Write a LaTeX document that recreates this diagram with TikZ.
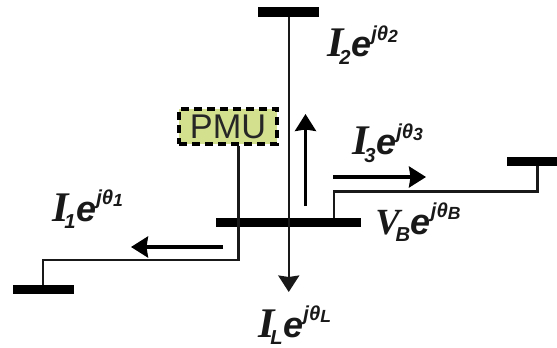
\documentclass[tikz,border=0pt]{standalone}
\usepackage{fontspec}
\setmainfont{Liberation Sans}
\newfontface\serifitalic{Liberation Serif Bold Italic}
\usepackage{xcolor}
\usetikzlibrary{arrows.meta, positioning, calc}
\definecolor{pmugreen}{HTML}{D3E18E}
\newcommand{\phasor}[4][24]{{\serifitalic\fontsize{#1}{#1}\selectfont #2}\kern-2.5pt\raisebox{-4pt}{\fontsize{11.5}{11.5}\selectfont\itshape\bfseries #3}\kern.4pt{\itshape\bfseries\fontsize{20.5}{20.5}\selectfont e}\raisebox{9.5pt}{\fontsize{11.5}{11.5}\selectfont\itshape\bfseries j\textit{θ}\raisebox{-1.2pt}{\fontsize{10}{10}\selectfont #4}}}

\begin{document}
\begin{tikzpicture}[
    bus/.style={fill=black, minimum height=0.19cm, inner sep=0pt, outer sep=0pt},
    wire/.style={line width=1.3pt, draw=black!90},
    flow/.style={line width=1.9pt, -{Stealth[length=0.34cm, width=0.42cm, inset=0.03cm]}},
    phasorlabel/.style={anchor=base west, inner sep=0pt, text=black!90}
]
    \clip (0,0) rectangle (11.14,-6.96);
    % buses
    \node[bus, minimum width=1.22cm] at (5.775,-0.24) (bustop) {};
    \node[bus, minimum width=2.9cm] at (5.77,-4.45) (busmid) {};
    \node[bus, minimum width=1.22cm] at (0.86,-5.79) (busleft) {};
    \node[bus, minimum width=1.22cm] at (10.75,-3.23) (busright) {};
    \node[draw, fill=pmugreen, line width=0.08cm, dash pattern=on 0.16cm off 0.1cm, minimum width=1.96cm, minimum height=0.7cm, inner sep=0pt, text=black!85, font=\fontsize{19.5}{19.5}\selectfont] at (4.56,-2.53) (pmu) {PMU};
    % free ends
    \coordinate (loadtip) at (5.775,-5.84);
    \coordinate (kneeleft) at (4.77,-5.2);
    \coordinate (kneeright) at (6.68,-3.83);
    \coordinate (upfrom) at (6.11,-4.12);
    \coordinate (upto) at (6.11,-2.28);
    \coordinate (rightfrom) at (6.66,-3.54);
    \coordinate (rightto) at (8.52,-3.54);
    \coordinate (leftfrom) at (4.46,-4.94);
    \coordinate (leftto) at (2.62,-4.94);
    % lines
    \draw[wire, -{Stealth[length=0.33cm, width=0.42cm, inset=0.03cm]}] (bustop.south) -- (loadtip);
    \draw[wire] (kneeleft |- pmu.south) -- (kneeleft) -| (busleft.north);
    \draw[wire] (kneeright |- busmid.north) -- (kneeright) -| (busright.south);
    % current arrows
    \draw[flow] (upfrom) -- (upto);
    \draw[flow] (rightfrom) -- (rightto);
    \draw[flow] (leftfrom) -- (leftto);
    % labels
    \node[phasorlabel] at (6.54,-1.14) (labeltwo) {\phasor{I}{2}{2}};
    \node[phasorlabel] at (7.04,-3.1) (labelthree) {\phasor{I}{3}{3}};
    \node[phasorlabel] at (1.04,-4.42) (labelone) {\phasor{I}{1}{1}};
    \node[phasorlabel] at (5.16,-6.74) (labelload) {\phasor{I}{L}{L}};
    \node[phasorlabel] at (7.5,-4.68) (labelbus) {\phasor[21]{V}{B}{B}};
\end{tikzpicture}
\end{document}
